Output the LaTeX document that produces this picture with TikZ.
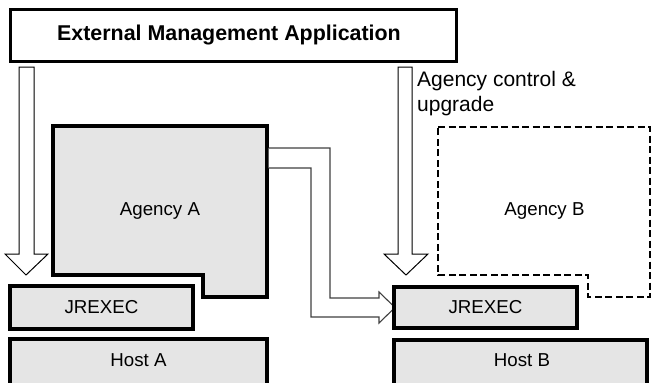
\documentclass[tikz,border=0pt]{standalone}
\usepackage{fontspec}
\setmainfont{Liberation Sans}
\begin{document}
\begin{tikzpicture}[x=1pt,y=-1pt,
  box/.style={draw=black,line width=3.2pt,fill=boxgray},
  lbl/.style={inner sep=0pt,font=\fontsize{18.7}{22}\selectfont},
  blockarrow/.style={draw=black,line width=1pt,fill=white,line join=miter},
  bentarrow/.style={draw=black!75,line width=1.1pt,fill=white,line join=miter},
  dashedbox/.style={draw=black,line width=2.9pt,dash pattern=on 7pt off 3.5pt,fill=white}]
\definecolor{boxgray}{gray}{0.9}
\useasboundingbox (0,0) rectangle (651,383);

% management application on top
\draw[line width=3pt,fill=white] (10,9) rectangle (456,61);
\node[inner sep=0pt,font=\fontsize{21.4}{24}\selectfont\bfseries] (ema) at (229,35) {External Management Application};

% down arrows from the application
\draw[blockarrow] (19,67) -- (34,67) -- (34,254) -- (48,254) -- (26,275) -- (5,254) -- (19,254) -- cycle;
\draw[blockarrow] (398,67) -- (412,67) -- (412,254) -- (428,254) -- (406,275) -- (384,254) -- (398,254) -- cycle;
\node[inner sep=0pt,anchor=base west,align=left,font=\fontsize{21}{25}\selectfont] (ctl) at (417,111) {Agency control \&\\upgrade};

% agency B (to be installed)
\draw[dashedbox] (438,127) -- (650,127) -- (650,297) -- (588,297) -- (588,275) -- (438,275) -- cycle;
\node[lbl] (agb) at (544.5,211) {Agency B};

% agency A
\draw[box] (53,126) -- (267,126) -- (267,297) -- (203,297) -- (203,275) -- (53,275) -- cycle;
\node[lbl] (aga) at (160,211) {Agency A};

% transfer arrow from agency A to the second JREXEC
\draw[bentarrow] (268.6,148) -- (330,148) -- (330,298) -- (379,298) -- (379,292) -- (395,307.5) -- (379,323) -- (379,317) -- (311,317) -- (311,168) -- (268.6,168);

% JREXEC layers
\node[box,lbl,minimum width=183pt,minimum height=43pt,inner sep=0pt] (jra) at (101.5,307.5) {JREXEC};
\node[box,lbl,minimum width=183pt,minimum height=41pt,inner sep=0pt] (jrb) at (485.5,307.5) {JREXEC};

% hosts
\draw[box] (10,339) rectangle (267,392);
\node[lbl] (hosta) at (138.5,360) {Host A};
\draw[box] (394,340) rectangle (647,392);
\node[lbl] (hostb) at (522,360) {Host B};
\end{tikzpicture}
\end{document}
